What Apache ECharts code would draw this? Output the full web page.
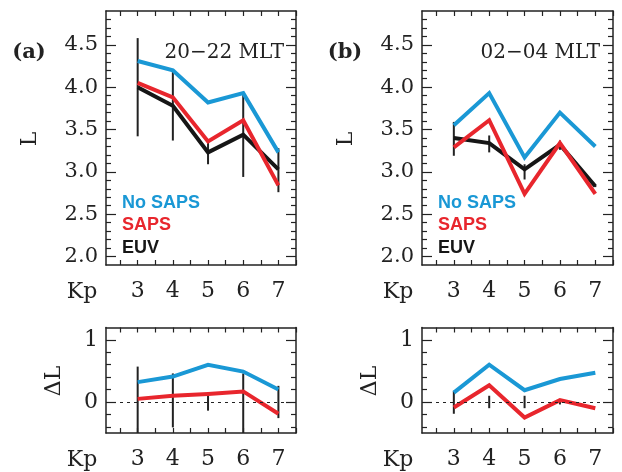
<!DOCTYPE html>
<html>
<head>
<meta charset="utf-8">
<script src="https://cdn.jsdelivr.net/npm/echarts@6/dist/echarts.min.js"></script>
<style>
html, body { margin: 0; background: #fff; }
#chart { width: 622px; height: 472px; }
</style>
</head>
<body>
<div id="chart"></div>
<script>
// Kp values on the x axis
const kp = [3, 4, 5, 6, 7];
const seriesNames = ['No SAPS', 'SAPS', 'EUV'];
const colors = ['#1a98d5', '#e8262d', '#161616'];
const panelTitles = ['20\u221222 MLT', '02\u221204 MLT'];
const panelTags = ['(a)', '(b)'];

// (a) 20-22 MLT, plasmapause L
const aNoSaps = [4.31, 4.20, 3.82, 3.93, 3.23];
const aSaps   = [4.05, 3.88, 3.36, 3.61, 2.84];
const aEuv    = [4.00, 3.78, 3.23, 3.44, 3.03];
const aEuvLow  = [3.42, 3.37, 3.09, 2.94, 2.76];
const aEuvHigh = [4.58, 4.21, 3.35, 3.94, 3.28];
// (a) differences from EUV
const aDNoSaps = [0.32, 0.41, 0.60, 0.49, 0.20];
const aDSaps   = [0.05, 0.10, 0.13, 0.17, -0.19];
const aDLow    = [-0.60, -0.41, -0.14, -0.60, -0.26];
const aDHigh   = [0.57, 0.46, 0.10, 0.46, 0.26];

// (b) 02-04 MLT
const bNoSaps = [3.55, 3.93, 3.17, 3.70, 3.30];
const bSaps   = [3.29, 3.61, 2.74, 3.34, 2.74];
const bEuv    = [3.40, 3.34, 3.03, 3.32, 2.83];
const bEuvLow  = [3.19, 3.23, 2.91, 3.26, 2.82];
const bEuvHigh = [3.59, 3.43, 3.09, 3.37, 2.84];
const bDNoSaps = [0.15, 0.60, 0.19, 0.37, 0.47];
const bDSaps   = [-0.09, 0.27, -0.25, 0.03, -0.10];
const bDLow    = [-0.19, -0.10, -0.10, -0.04, 0];
const bDHigh   = [0.18, 0.10, 0.10, 0.04, 0];

// tick labels
const lTicks = [2.0, 2.5, 3.0, 3.5, 4.0, 4.5];
const dTicks = [0, 1];
const dMinor = [-0.4, -0.2, 0.2, 0.4, 0.6, 0.8];
const kpTicks = [2.5, 3, 3.5, 4, 4.5, 5, 5.5, 6, 6.5, 7, 7.5];
const lMinor = [];
for (let i = 20; i <= 48; i++) { if (i % 5) lMinor.push(i / 10); }

const ink = '#222';
const serif = 'DejaVu Serif';

let chart = echarts.init(document.getElementById('chart'));

const rects = [
    {left: 106, top: 11, width: 190, height: 254},
    {left: 422, top: 11, width: 191, height: 254},
    {left: 106, top: 327.5, width: 190, height: 105.5},
    {left: 422, top: 327.5, width: 191, height: 105.5}
];
const yRanges = [[1.9, 4.9], [1.9, 4.9], [-0.5, 1.2], [-0.5, 1.2]];
const xRange = [2.1, 7.5];

let grids = [], xAxes = [], yAxes = [];
rects.forEach(function (r, i) {
    const isL = i < 2;
    const major = isL ? lTicks : dTicks;
    const minor = isL ? lMinor : dMinor;
    // main grid (box, labels, long ticks) and an overlaid grid for short ticks
    grids.push(Object.assign({}, r));
    grids.push(Object.assign({}, r));
    const g = i * 2;
    ['bottom', 'top'].forEach(function (pos) {
        xAxes.push({
            gridIndex: g, type: 'value', position: pos,
            min: xRange[0], max: xRange[1],
            axisLine: {onZero: false, lineStyle: {color: ink, width: 1.5}},
            axisTick: {inside: true, length: 5, customValues: kpTicks, lineStyle: {color: ink, width: 1.2}},
            axisLabel: pos === 'bottom' ? {
                customValues: kp, margin: 15, color: ink,
                fontFamily: serif, fontSize: 22
            } : {show: false},
            splitLine: {show: false}
        });
        xAxes.push({
            gridIndex: g + 1, type: 'value', position: pos,
            min: xRange[0], max: xRange[1], show: false
        });
    });
    ['left', 'right'].forEach(function (pos) {
        yAxes.push({
            gridIndex: g, type: 'value', position: pos,
            min: yRanges[i][0], max: yRanges[i][1],
            axisLine: {onZero: false, lineStyle: {color: ink, width: 1.5}},
            axisTick: {inside: true, length: 10, customValues: major, lineStyle: {color: ink, width: 1.2}},
            axisLabel: pos === 'left' ? {
                customValues: major, margin: 8, color: ink,
                fontFamily: serif, fontSize: isL ? 21 : 22,
                formatter: function (v) { return isL ? v.toFixed(1) : String(Math.round(v)); }
            } : {show: false},
            splitLine: {show: false}
        });
        yAxes.push({
            gridIndex: g + 1, type: 'value', position: pos,
            min: yRanges[i][0], max: yRanges[i][1],
            axisLine: {show: false},
            axisTick: {inside: true, length: 5, customValues: minor, lineStyle: {color: ink, width: 1.2}},
            axisLabel: {show: false},
            splitLine: {show: false}
        });
    });
});

function pairs(vals) { return kp.map(function (k, i) { return [k, vals[i]]; }); }
function bars(lo, hi) { return kp.map(function (k, i) { return [k, lo[i], hi[i]]; }); }

function errorBars(panel, lo, hi) {
    return {
        type: 'custom', xAxisIndex: panel * 4, yAxisIndex: panel * 4, z: 1,
        data: bars(lo, hi),
        encode: {x: 0, y: [1, 2]},
        renderItem: function (params, api) {
            const cs = params.coordSys;
            const p1 = api.coord([api.value(0), api.value(2)]);
            const p2 = api.coord([api.value(0), api.value(1)]);
            const clamp = function (y) { return Math.max(cs.y, Math.min(cs.y + cs.height, y)); };
            return {
                type: 'line',
                shape: {x1: p1[0], y1: clamp(p1[1]), x2: p2[0], y2: clamp(p2[1])},
                style: {stroke: ink, lineWidth: 2}
            };
        }
    };
}

function line(panel, vals, c, z, zeroLine) {
    let s = {
        type: 'line', xAxisIndex: panel * 4, yAxisIndex: panel * 4, z: z,
        data: pairs(vals), showSymbol: false, symbol: 'none',
        lineStyle: {color: colors[c], width: 4, join: 'miter', cap: 'butt'}
    };
    if (zeroLine) {
        s.markLine = {
            silent: true, symbol: 'none', label: {show: false},
            data: [{yAxis: 0}],
            lineStyle: {color: ink, width: 1, type: [3, 4]}
        };
    }
    return s;
}

const series = [
    errorBars(0, aEuvLow, aEuvHigh),
    line(0, aEuv, 2, 2), line(0, aSaps, 1, 3), line(0, aNoSaps, 0, 4),
    errorBars(1, bEuvLow, bEuvHigh),
    line(1, bEuv, 2, 2), line(1, bSaps, 1, 3), line(1, bNoSaps, 0, 4),
    errorBars(2, aDLow, aDHigh),
    line(2, aDSaps, 1, 3, true), line(2, aDNoSaps, 0, 4),
    errorBars(3, bDLow, bDHigh),
    line(3, bDSaps, 1, 3, true), line(3, bDNoSaps, 0, 4)
];

function txt(x, y, text, font, extra) {
    return {
        type: 'text', x: x, y: y,
        style: Object.assign({text: text, font: font, fill: ink, textAlign: 'center', textVerticalAlign: 'middle'}, extra || {})
    };
}

let graphics = [];
[0, 316].forEach(function (dx, p) {
    graphics.push(txt(29 + dx, 53, panelTags[p], 'bold 21px ' + serif));
    graphics.push(txt(284 + dx, 53, panelTitles[p], '20px ' + serif, {textAlign: 'right'}));
    let l = txt(30 + dx, 139, 'L', '22px ' + serif); l.rotation = Math.PI / 2; graphics.push(l);
    let dl = txt(54 + dx, 381, '\u0394L', '22px ' + serif); dl.rotation = Math.PI / 2; graphics.push(dl);
    graphics.push(txt(82 + dx, 292, 'Kp', '22px ' + serif));
    graphics.push(txt(82 + dx, 460, 'Kp', '22px ' + serif));
    seriesNames.forEach(function (n, k) {
        let t = txt(122 + dx, 203 + k * 22.5, n, 'bold 18px "Liberation Sans"', {textAlign: 'left'});
        t.style.fill = colors[k];
        graphics.push(t);
    });
});

chart.setOption({
    animation: false,
    backgroundColor: '#fff',
    grid: grids,
    xAxis: xAxes,
    yAxis: yAxes,
    series: series,
    graphic: graphics
});
</script>
</body>
</html>
